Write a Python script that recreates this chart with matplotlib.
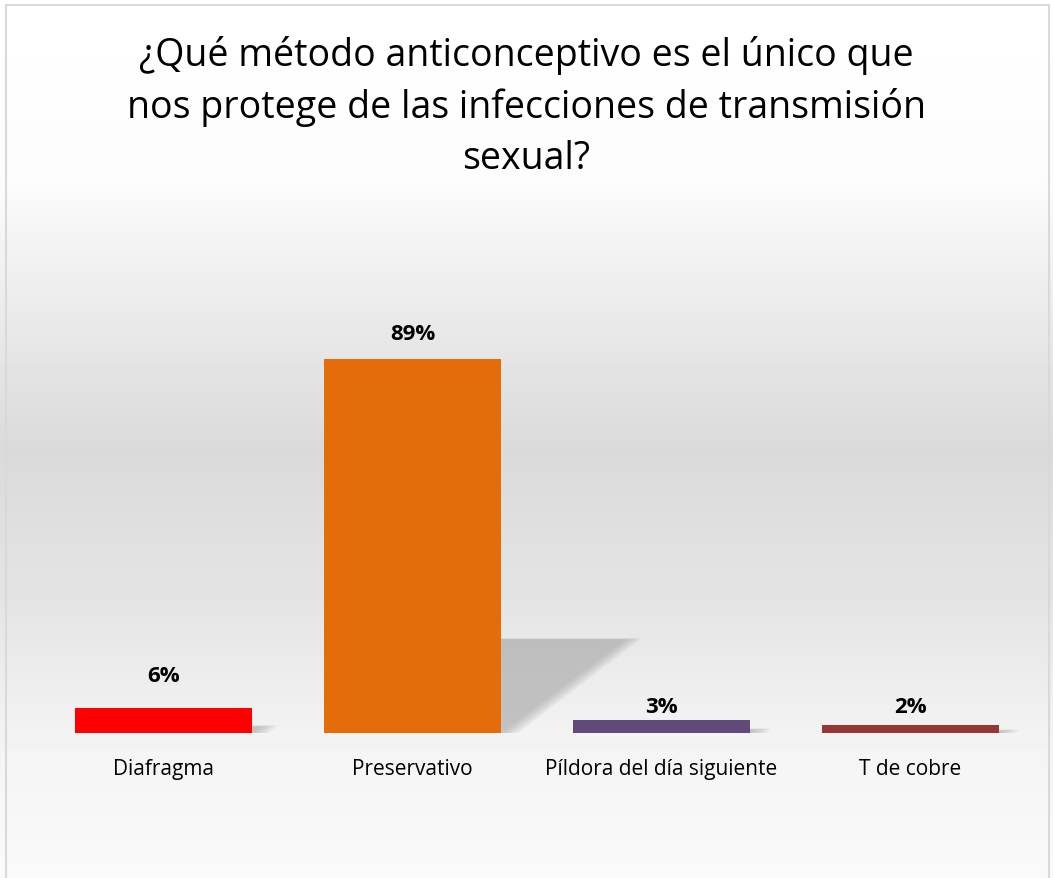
import numpy as np
import matplotlib.pyplot as plt
from matplotlib.patches import Polygon, Rectangle

# data
categories = ['Diafragma', 'Preservativo', 'Píldora del día siguiente', 'T de cobre']
values = [6, 89, 3, 2]
labels = ['6%', '89%', '3%', '2%']
colors = ['#ff0000', '#e46c0a', '#604a7b', '#953735']
title = '¿Qué método anticonceptivo es el único que\nnos protege de las infecciones de transmisión\nsexual?'

# label gaps above each bar (as placed in the original)
label_gap = [7.8, 6.2, 3.4, 4.4]

plt.rcParams['font.family'] = ['Open Sans', 'DejaVu Sans']

fig = plt.figure(figsize=(10.53, 8.79), dpi=100)

# background gradient (white -> gray -> white)
bg = fig.add_axes([0, 0, 1, 1], zorder=0)
yy = np.array([0, 180, 300, 450, 600, 750, 879])
gg = np.array([255, 252, 236, 218, 228, 244, 250])
col = np.interp(np.arange(879), yy, gg) / 255.0
img = np.repeat(col[:, None], 2, axis=1)
bg.imshow(img, cmap='gray', vmin=0, vmax=1, aspect='auto', extent=[0, 1, 0, 1])
bg.add_patch(Rectangle((6 / 1053, -0.01), 1043 / 1053, 1 - 6 / 879 + 0.01,
                       fill=False, ec='#d9d9d9', lw=1.5, transform=bg.transAxes))
bg.set_xlim(0, 1)
bg.set_ylim(0, 1)
bg.axis('off')

# plot area
left = 39 / 1053
right = 1035 / 1053
bottom = 1 - 734 / 879
top = 1 - 314 / 879
ax = fig.add_axes([left, bottom, right - left, top - bottom], zorder=1)
ax.patch.set_alpha(0)

x = np.arange(len(categories))
width = 0.71

# perspective shadows (soft, several layers)
for xi, v in zip(x, values):
    h = v * 0.25
    dx = v * 0.0056
    for k in range(8):
        grow = k * 0.01
        poly = Polygon([(xi - width / 2, 0), (xi + width / 2 + grow, 0),
                        (xi + width / 2 + dx + grow, h + grow * 5),
                        (xi - width / 2 + dx, h + grow * 5)],
                       closed=True, fc='#9a9a9a', ec='none', alpha=0.085, zorder=1)
        ax.add_patch(poly)

ax.bar(x, values, width=width, color=colors, zorder=3)

for xi, v, lab, g in zip(x, values, labels, label_gap):
    ax.text(xi, v + g, lab, ha='center', va='center', fontsize=16,
            fontweight='bold', color='#000000', zorder=4)

ax.set_xlim(-0.5, 3.5)
ax.set_ylim(0, 100)
ax.set_xticks(x)
ax.set_xticklabels(categories, fontsize=15, color='#000000')
ax.tick_params(axis='x', length=0, pad=18)
ax.set_yticks([])
for s in ax.spines.values():
    s.set_visible(False)

fig.text(0.5, 1 - 107 / 879, title, ha='center', va='center', fontsize=27,
         linespacing=1.44, color='#000000')

fig.savefig('out.png', dpi=100)
